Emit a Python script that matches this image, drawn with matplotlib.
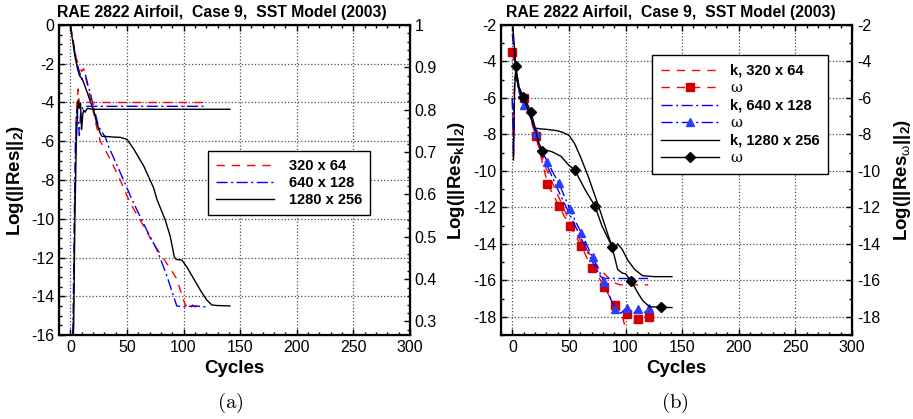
import matplotlib
matplotlib.use("Agg")
import matplotlib.pyplot as plt
import numpy as np
from matplotlib.ticker import MultipleLocator, FuncFormatter

plt.rcParams['font.family'] = ['Liberation Sans', 'DejaVu Sans']
plt.rcParams['mathtext.fontset'] = 'custom'
plt.rcParams['mathtext.rm'] = 'Liberation Sans'
plt.rcParams['mathtext.bf'] = 'Liberation Sans:bold'
plt.rcParams['mathtext.it'] = 'Liberation Sans:italic'

title = "RAE 2822 Airfoil,  Case 9,  SST Model (2003)"

# ---- panel (a): residual (left axis) ----
cyc_a_320 = [0, 2, 4, 6, 7.5, 10, 11.8, 14, 17, 20, 23, 26.5, 35, 44, 53, 63, 73.5, 84, 94, 100,
             102, 104, 106, 108, 110, 112, 114, 117]
res_a_320 = [0, -0.6, -1.3, -1.9, -2.0, -2.4, -2.25, -2.8, -3.6, -4.4, -5.2, -6.0, -6.9, -8.0, -9.2,
             -10.2, -11.3, -12.2, -13.1, -14.2, -14.5, -14.4, -14.6, -14.45, -14.55, -14.5, -14.65, -14.6]
cyc_a_640 = [0, 2, 4, 6, 8, 10, 13.5, 16, 17.6, 20, 23.5, 25, 31, 34, 44, 54.4, 65, 76.5, 85, 94,
             100, 110, 120]
res_a_640 = [0, -0.7, -1.4, -2.0, -2.4, -2.8, -2.6, -3.2, -3.5, -4.1, -4.9, -5.25, -5.8, -6.3, -7.6,
             -9.0, -10.3, -11.6, -12.9, -14.5, -14.55, -14.5, -14.55]
cyc_a_1280 = [0, 2, 4, 6.5, 8, 10, 12, 15, 18, 20.6, 23, 26.5, 28, 31, 37, 44, 50, 56, 65, 73.5,
              76.5, 83.8, 88.2, 91.8, 93.5, 98.5, 103, 108, 112, 116, 120.6, 125, 130, 141]
res_a_1280 = [0, -0.8, -1.6, -2.3, -2.6, -2.75, -3.0, -3.5, -4.0, -4.4, -5.0, -5.6, -5.75, -5.75,
              -5.78, -5.8, -5.9, -6.4, -7.3, -8.4, -9.0, -10.06, -10.9, -11.96, -12.1, -12.13,
              -12.5, -13.0, -13.4, -13.8, -14.2, -14.45, -14.48, -14.5]

# ---- panel (a): second quantity (right axis) ----
cyc_r_320 = [2, 3, 4, 5, 6, 7, 8, 10, 12, 15, 20, 120]
val_r_320 = [0.222, 0.359, 0.588, 0.771, 0.826, 0.849, 0.812, 0.817, 0.819, 0.817, 0.817, 0.817]
cyc_r_640 = [1.5, 2.5, 3.5, 4.5, 5.6, 7, 8, 9, 11, 14, 20, 120]
val_r_640 = [0.222, 0.313, 0.542, 0.725, 0.799, 0.771, 0.739, 0.789, 0.805, 0.808, 0.808, 0.808]
cyc_r_1280 = [2, 3, 4, 5.3, 6.8, 8, 9, 10, 11, 11.8, 13, 15, 20, 141]
val_r_1280 = [0.222, 0.291, 0.542, 0.725, 0.823, 0.803, 0.815, 0.753, 0.789, 0.799, 0.794, 0.803,
              0.801, 0.801]

# ---- panel (b): k and omega residuals ----
cyc_k_320 = [0, 1, 2, 3, 6, 10, 15, 20, 25, 30, 40, 50, 61, 70, 77, 89, 95, 120]
res_k_320 = [-6.0, -9.3, -5.0, -4.6, -5.6, -6.2, -6.9, -8.0, -9.0, -9.9, -11.3, -12.7, -13.9, -14.7,
             -15.4, -16.1, -16.25, -16.25]
cyc_w_320 = [0, 3, 6, 10, 16, 21, 26, 31, 36, 41, 46, 51, 56, 61, 66, 70, 76, 81, 86, 91, 96, 99,
             101, 104, 106, 111, 116, 121]
res_w_320 = [-3.5, -4.6, -5.6, -6.0, -6.9, -8.1, -9.4, -10.7, -11.3, -11.9, -12.5, -13.0, -13.6,
             -14.1, -14.8, -15.3, -15.8, -16.35, -16.9, -17.35, -17.7, -18.4, -17.85, -18.1, -18.4,
             -18.15, -18.3, -18.0]
mark_w_320 = [0, 3, 5, 7, 9, 11, 13, 15, 17, 19, 22, 25, 27]

cyc_k_640 = [0, 1, 2, 3, 6, 10, 15, 20, 25, 30, 40, 50, 60, 70, 78, 82, 90, 120]
res_k_640 = [-6.0, -9.2, -5.2, -4.6, -5.7, -6.2, -6.8, -7.8, -8.9, -9.6, -11.0, -12.3, -13.6, -14.9,
             -15.8, -15.9, -15.9, -15.9]
cyc_w_640 = [0, 3, 6, 10, 15, 21, 26, 31, 36, 41, 46, 51, 56, 61, 66, 71, 76, 81, 86, 91, 96, 101,
             106, 111, 116, 121]
res_w_640 = [-2.5, -4.5, -5.6, -6.4, -6.9, -7.9, -8.9, -9.5, -10.1, -10.65, -11.4, -12.1, -12.8,
             -13.4, -14.1, -14.75, -15.4, -16.1, -16.9, -17.6, -17.8, -17.5, -17.9, -17.55, -17.8,
             -17.5]
mark_w_640 = [3, 5, 7, 9, 11, 13, 15, 17, 19, 21, 23, 25]

cyc_k_1280 = [1, 2, 3, 5, 8, 10, 13, 16, 19, 20, 25, 30, 40, 45, 50, 55, 60, 67, 76, 85, 88, 90,
              93, 97, 102, 108, 115, 125, 141]
res_k_1280 = [-9.4, -5.5, -4.5, -5.3, -5.9, -6.1, -6.5, -7.0, -7.5, -7.65, -7.7, -7.72, -7.8, -7.9,
              -8.05, -8.5, -9.2, -10.3, -11.9, -13.6, -14.1, -14.3, -14.0, -14.3, -14.9, -15.4,
              -15.75, -15.8, -15.8]
cyc_w_1280 = [0, 1, 3, 6, 9.7, 13, 16.5, 20, 23, 26, 29, 35, 43, 50, 55, 64, 73, 79, 88, 93, 97,
              100, 105, 110, 115, 121, 131, 141]
res_w_1280 = [-1.5, -2.5, -4.24, -5.4, -5.95, -6.3, -6.77, -7.6, -8.4, -8.9, -8.85, -8.95, -9.2,
              -9.7, -9.93, -11.0, -11.93, -13.0, -14.15, -15.4, -15.6, -15.65, -16.03, -16.6,
              -17.1, -17.45, -17.47, -17.5]
mark_w_1280 = [2, 4, 6, 9, 14, 16, 18, 22, 26]

RED = '#ff0000'
BLUE = '#0000ff'
dash_r = (0, (6, 5))
dash_b = (0, (8, 2.5, 1.5, 2.5))

fig = plt.figure(figsize=(9.13, 4.19), dpi=100)
W, H = 913.0, 419.0
ax1 = fig.add_axes([59 / W, 1 - 335 / H, 351 / W, 310 / H])
ax2 = fig.add_axes([501 / W, 1 - 335 / H, 351 / W, 310 / H])


def ticks(ax):
    ax.tick_params(which='both', direction='in', labelsize=11.5, pad=3.5, width=1)
    ax.tick_params(which='major', length=4.5)
    ax.tick_params(which='minor', length=2.3)


def style(ax, ymaj, ymin):
    ax.xaxis.set_major_locator(MultipleLocator(50))
    ax.xaxis.set_minor_locator(MultipleLocator(10))
    ax.yaxis.set_major_locator(MultipleLocator(ymaj))
    ax.yaxis.set_minor_locator(MultipleLocator(ymin))
    ticks(ax)
    ax.tick_params(which='both', top=True)
    ax.grid(True, which='major', linestyle=':', color='0.3', lw=0.9)
    ax.set_axisbelow(True)
    for s in ax.spines.values():
        s.set_linewidth(1.6)
    ax.yaxis.set_major_formatter(FuncFormatter(lambda v, p: '%g' % v))


lab = dict(fontsize=13.5, fontweight='bold')

# panel (a)
ax1.plot(cyc_a_320, res_a_320, color=RED, ls=dash_r, lw=1, label='320 x 64')
ax1.plot(cyc_a_640, res_a_640, color=BLUE, ls=dash_b, lw=1, label='640 x 128')
ax1.plot(cyc_a_1280, res_a_1280, color='black', lw=1, label='1280 x 256')
ax1.set_xlim(-10, 300)
ax1.set_ylim(-16, 0)
style(ax1, 2, 0.5)
ax1.set_xlabel('Cycles', **lab)
ax1.set_ylabel('Log(||Res||$_\\mathbf{2}$)', **lab)
ax1.xaxis.set_label_coords(0.5, -0.082)
ax1.yaxis.set_label_coords(-0.094, 0.5)

ax1r = ax1.twinx()
ax1r.plot(cyc_r_320, val_r_320, color=RED, ls=dash_r, lw=1)
ax1r.plot(cyc_r_640, val_r_640, color=BLUE, ls=dash_b, lw=1)
ax1r.plot(cyc_r_1280, val_r_1280, color='black', lw=1)
ax1r.set_ylim(0.268, 1.0)
ax1r.yaxis.set_major_locator(MultipleLocator(0.1))
ax1r.yaxis.set_minor_locator(MultipleLocator(0.02))
ax1r.yaxis.set_major_formatter(FuncFormatter(lambda v, p: '%g' % round(v, 2)))
ticks(ax1r)

leg1 = ax1.legend(loc='upper left', bbox_to_anchor=(0.4245, 0.594), borderaxespad=0,
                  fancybox=False, edgecolor='black', framealpha=1, handlelength=4.0,
                  handletextpad=1.0, labelspacing=0.22, borderpad=0.55,
                  prop={'size': 10.5, 'weight': 'bold'})
leg1.get_frame().set_linewidth(1.0)
leg1.set_zorder(5)

# panel (b)
ax2.plot(cyc_k_320, res_k_320, color=RED, ls=dash_r, lw=1, label='k, 320 x 64')
ax2.plot(cyc_w_320, res_w_320, color=RED, ls=dash_r, lw=1, marker='s', ms=5.2,
         mfc='#d40000', mec='#d40000', markevery=mark_w_320, label='\u03c9')
ax2.plot(cyc_k_640, res_k_640, color=BLUE, ls=dash_b, lw=1, label='k, 640 x 128')
ax2.plot(cyc_w_640, res_w_640, color=BLUE, ls=dash_b, lw=1, marker='^', ms=6,
         mfc='#2a3cff', mec='#2a3cff', markevery=mark_w_640, label='\u03c9')
ax2.plot(cyc_k_1280, res_k_1280, color='black', lw=1, label='k, 1280 x 256')
ax2.plot(cyc_w_1280, res_w_1280, color='black', lw=1, marker='D', ms=5,
         mfc='black', mec='black', markevery=mark_w_1280, label='\u03c9')
ax2.set_xlim(-10, 300)
ax2.set_ylim(-19, -2)
style(ax2, 2, 1)
ax2.set_xlabel('Cycles', **lab)
ax2.set_ylabel('Log(||Res$_\\mathbf{k}$||$_\\mathbf{2}$)', **lab)
ax2.xaxis.set_label_coords(0.5, -0.082)
ax2.yaxis.set_label_coords(-0.097, 0.5)

ax2r = ax2.twinx()
ax2r.set_ylim(-19, -2)
ax2r.yaxis.set_major_locator(MultipleLocator(2))
ax2r.yaxis.set_minor_locator(MultipleLocator(1))
ax2r.yaxis.set_major_formatter(FuncFormatter(lambda v, p: '%g' % v))
ticks(ax2r)
ax2r.set_ylabel('Log(||Res$_\\mathrm{\u03c9}$||$_\\mathbf{2}$)', **lab)
ax2r.yaxis.set_label_coords(1.114, 0.5)

leg2 = ax2.legend(loc='upper left', bbox_to_anchor=(0.43, 0.903), borderaxespad=0, numpoints=1,
                  fancybox=False, edgecolor='black', framealpha=1, handlelength=4.0,
                  handletextpad=0.75, labelspacing=0.24, borderpad=0.6,
                  prop={'size': 10.5, 'weight': 'bold'})
leg2.get_frame().set_linewidth(1.0)
for t in leg2.get_texts():
    if t.get_text() == '\u03c9':
        t.set_fontweight('normal')
        t.set_fontfamily(['DejaVu Serif'])

# titles and captions
fig.text(222 / W, 1 - 13 / H, title, ha='center', va='center', fontsize=11.3, fontweight='bold')
fig.text(671 / W, 1 - 13 / H, title, ha='center', va='center', fontsize=11.3, fontweight='bold')
fig.text(230 / W, 1 - 403 / H, r'$\mathrm{(a)}$', ha='center', va='center', fontsize=15,
         math_fontfamily='cm')
fig.text(675 / W, 1 - 403 / H, r'$\mathrm{(b)}$', ha='center', va='center', fontsize=15,
         math_fontfamily='cm')

fig.savefig('out.png', dpi=100)
